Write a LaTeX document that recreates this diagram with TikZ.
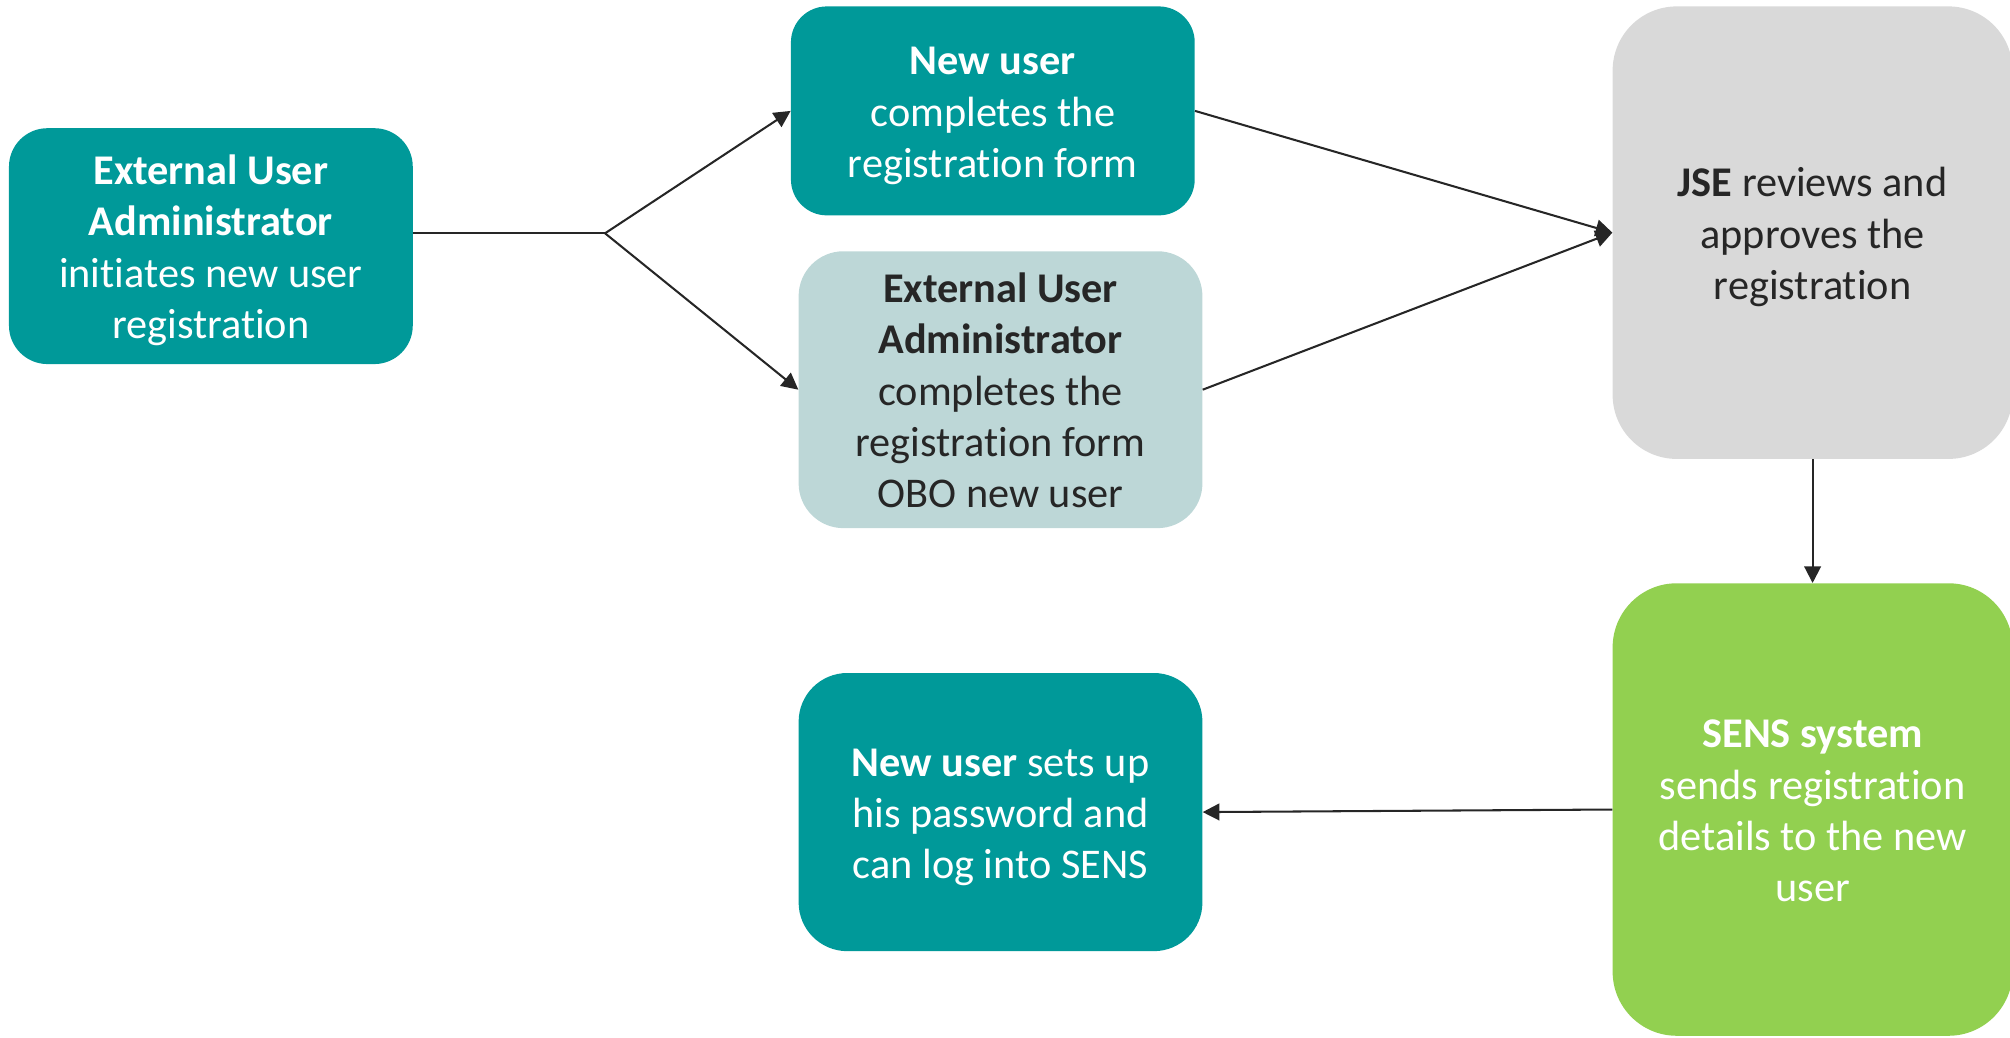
\documentclass[tikz,border=0pt]{standalone}
\usepackage{fontspec}
\setmainfont{Carlito}[Ligatures=NoCommon]
\usetikzlibrary{arrows.meta}
\definecolor{tealA}{HTML}{009999}
\definecolor{ltealA}{HTML}{BDD7D7}
\definecolor{lgrayA}{HTML}{D9D9D9}
\definecolor{lgreenA}{HTML}{92D050}
\definecolor{inkA}{HTML}{262626}
\newcommand{\btxt}[1]{\raisebox{-4pt}[\height][\depth]{\begin{tabular}{@{}c@{}}#1\end{tabular}}}
\begin{document}
\begin{tikzpicture}[x=1pt,y=-1pt,
  box/.style={rectangle, inner sep=0pt, font=\fontsize{33}{40}\selectfont},
  tealbox/.style={box, fill=tealA, text=white},
  lightbox/.style={box, fill=ltealA, text=inkA},
  graybox/.style={box, fill=lgrayA, text=inkA},
  greenbox/.style={box, fill=lgreenA, text=white},
  conn/.style={draw=inkA, line width=1.6pt},
  arr/.style={conn, -{Triangle[length=13pt,width=13pt]}}]
\useasboundingbox (0,0) rectangle (1568,809);

\node[tealbox, minimum width=315pt, minimum height=184pt, rounded corners=30pt] (A) at (164.5,192)
  {\btxt{\textbf{External User}\\\textbf{Administrator}\\initiates new user\\registration}};
\node[tealbox, minimum width=315pt, minimum height=163pt, rounded corners=28pt] (B) at (774.5,86.5)
  {\btxt{\textbf{New user}\\completes the\\registration form}};
\node[lightbox, minimum width=315pt, minimum height=216pt, rounded corners=35pt] (C) at (780.5,304)
  {\btxt{\textbf{External User}\\\textbf{Administrator}\\completes the\\registration form\\OBO new user}};
\node[graybox, minimum width=312pt, minimum height=353pt, rounded corners=50pt] (D) at (1414,181.5)
  {\btxt{\textbf{JSE} reviews and\\approves the\\registration}};
\node[greenbox, minimum width=312pt, minimum height=353pt, rounded corners=50pt] (E) at (1414,631.5)
  {\btxt{\textbf{SENS system}\\sends registration\\details to the new\\user}};
\node[tealbox, minimum width=315pt, minimum height=217pt, rounded corners=38pt] (F) at (780.5,633.5)
  {\btxt{\textbf{New user} sets up\\his password and\\can log into SENS}};

\coordinate (j) at (472,182);
\draw[conn] ([yshift=10pt]A.east) -- (j);
\draw[arr] (j) -- (B.west);
\draw[arr] (j) -- (C.west);
\draw[arr] (B.east) -- (D.west);
\draw[arr] (C.east) -- (D.west);
\draw[arr] (D.south) -- (E.north);
\draw[arr] (E.west) -- (F.east);
\end{tikzpicture}
\end{document}
